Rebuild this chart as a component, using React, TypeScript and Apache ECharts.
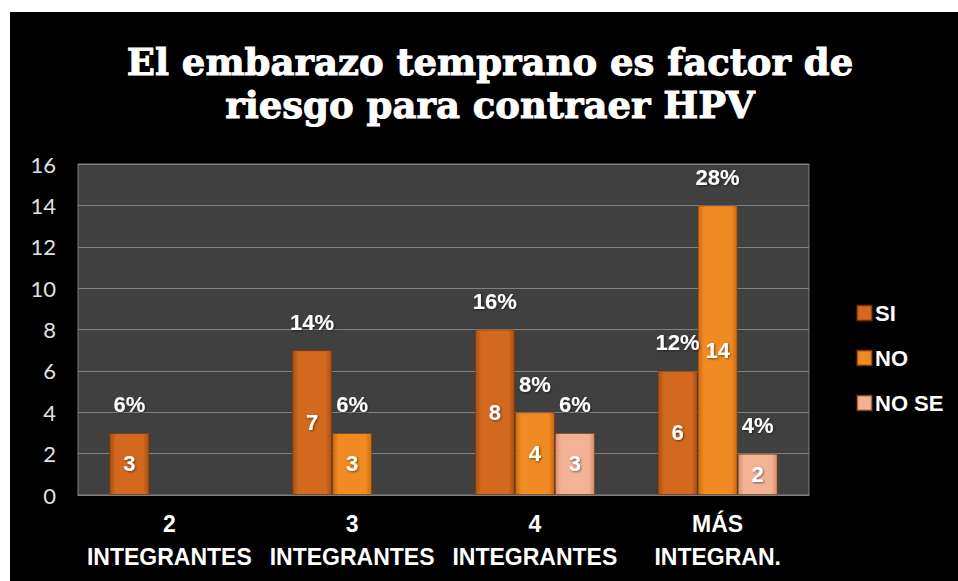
import React, { useEffect, useRef } from "react";
import * as echarts from "echarts";

const titleText = "El embarazo temprano es factor de\nriesgo para contraer HPV";
const categories = ["2\nINTEGRANTES", "3\nINTEGRANTES", "4\nINTEGRANTES", "MÁS\nINTEGRAN."];
const seriesNames = ["SI", "NO", "NO SE"];
const siValues = [3, 7, 8, 6];
const noValues = [null, 3, 4, 14];
const noSeValues = [null, null, 3, 2];
const siPct = ["6%", "14%", "16%", "12%"];
const noPct = [null, "6%", "8%", "28%"];
const noSePct = [null, null, "6%", "4%"];
const yTicks = { min: 0, max: 16, interval: 2 };

const grad = (edge: string, mid: string) =>
  new echarts.graphic.LinearGradient(0, 0, 1, 0, [
    { offset: 0, color: edge },
    { offset: 0.15, color: mid },
    { offset: 0.85, color: mid },
    { offset: 1, color: edge },
  ]);

export default function App() {
  const ref = useRef<HTMLDivElement>(null);
  useEffect(() => {
    if (!ref.current) return;
    const chart = echarts.init(ref.current, null, { renderer: "svg" });
    const colors = [
      grad("#a84f12", "#d2691f"),
      grad("#c86a10", "#f08a22"),
      grad("#d79070", "#f2b394"),
    ];
    const values = [siValues, noValues, noSeValues];
    const pcts = [siPct, noPct, noSePct];
    const labelFont = {
      color: "#ffffff",
      fontFamily: "Liberation Sans, Arial, sans-serif",
      fontWeight: "bold" as const,
      fontSize: 22,
      textShadowColor: "rgba(0,0,0,0.5)",
      textShadowBlur: 2,
      textShadowOffsetX: 1,
      textShadowOffsetY: 1,
    };
    const mainSeries = seriesNames.map((name, i) => ({
      name,
      type: "bar",
      xAxisIndex: 0,
      barWidth: "21.9%",
      barGap: "0%",
      data: values[i],
      itemStyle: { color: colors[i], borderColor: "rgba(120,50,0,0.5)", borderWidth: 1 },
      label: { show: true, position: "inside", ...labelFont, formatter: (p: any) => String(p.value) },
    }));
    const pctSeries = seriesNames.map((name, i) => ({
      name: name + " %",
      type: "bar",
      xAxisIndex: 1,
      barWidth: "21.9%",
      barGap: "0%",
      data: values[i],
      itemStyle: { color: "rgba(0,0,0,0)" },
      label: {
        show: true,
        position: "top",
        distance: 17,
        ...labelFont,
        formatter: (p: any) => pcts[i][p.dataIndex] ?? "",
      },
      silent: true,
    }));
    chart.setOption({
      animation: false,
      backgroundColor: "#ffffff",
      graphic: [
        { type: "rect", z: -10, shape: { x: 10, y: 12, width: 948, height: 569 }, style: { fill: "#000000" } },
        {
          type: "text",
          x: 490,
          y: 83,
          style: {
            text: titleText,
            fill: "#ffffff",
            stroke: "#ffffff",
            lineWidth: 1,
            font: "bold 37px 'DejaVu Serif', serif",
            lineHeight: 43,
            textAlign: "center",
            textVerticalAlign: "middle",
          },
        },
      ],
      legend: {
        data: seriesNames,
        orient: "vertical",
        left: 851,
        top: 297,
        itemWidth: 15,
        itemHeight: 15,
        itemGap: 23,
        icon: "rect",
        textStyle: {
          color: "#ffffff",
          fontFamily: "Liberation Sans, Arial, sans-serif",
          fontWeight: "bold",
          fontSize: 22,
          padding: [0, 0, 0, -2],
        },
      },
      grid: {
        left: 78,
        top: 164,
        right: 149,
        bottom: 86,
        show: true,
        backgroundColor: "#404040",
        borderColor: "#808080",
        borderWidth: 1,
      },
      xAxis: [
        {
          type: "category",
          data: categories,
          axisTick: { show: false },
          axisLine: { show: true, lineStyle: { color: "#808080" } },
          axisLabel: {
            interval: 0,
            margin: 12,
            color: "#ffffff",
            fontFamily: "Liberation Sans, Arial, sans-serif",
            fontWeight: "bold",
            fontSize: 23,
            lineHeight: 33,
          },
        },
        { type: "category", data: categories, show: false },
      ],
      yAxis: {
        type: "value",
        min: yTicks.min,
        max: yTicks.max,
        interval: yTicks.interval,
        axisLine: { show: false },
        axisTick: { show: false },
        splitLine: { lineStyle: { color: "#808080", width: 1 } },
        axisLabel: {
          color: "#e0e0e0",
          fontFamily: "Lato, 'Open Sans', sans-serif",
          fontSize: 22,
          margin: 22,
        },
      },
      series: [...mainSeries, ...pctSeries],
    });
    return () => chart.dispose();
  }, []);
  return (
    <div style={{ position: "absolute", left: 0, top: 0, width: 958, height: 581 }}>
      <div ref={ref} style={{ width: 958, height: 581 }} />
    </div>
  );
}
